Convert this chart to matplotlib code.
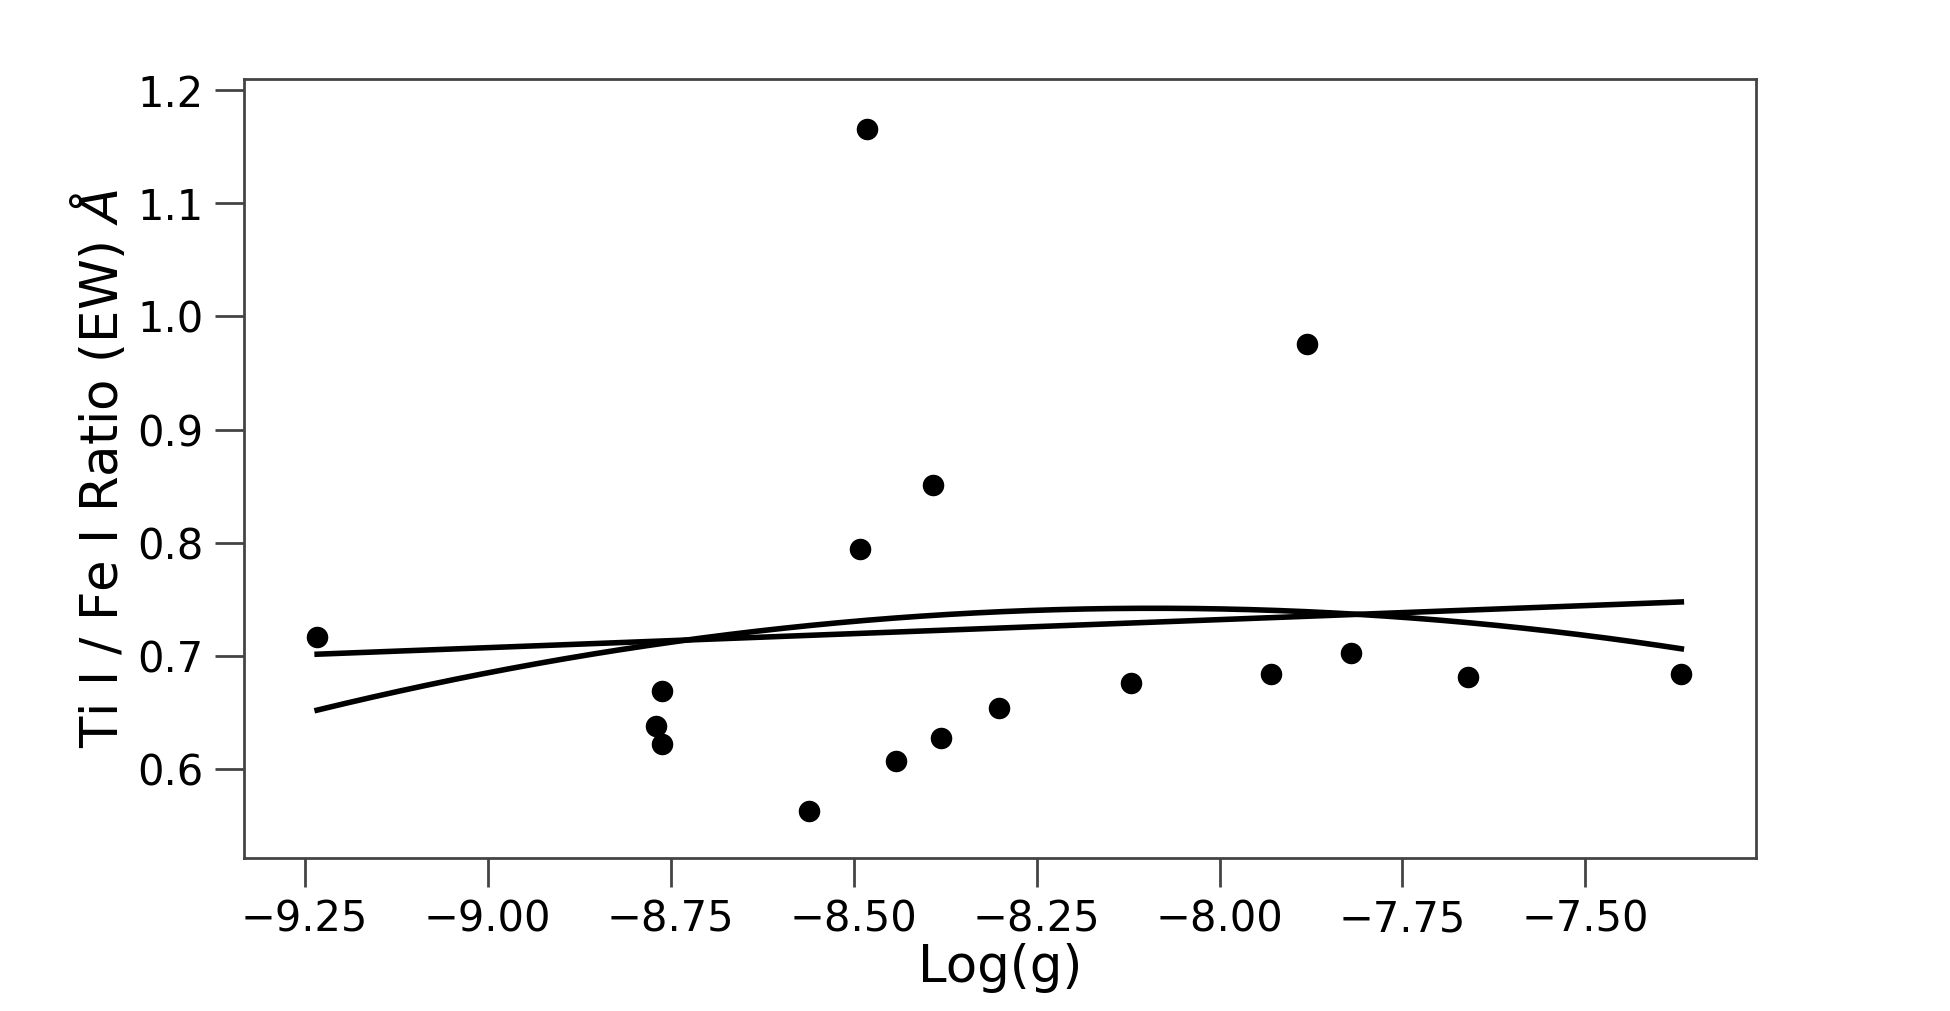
import matplotlib.pyplot as plt
import numpy as np

log_g = [-9.233, -8.762, -8.770, -8.762, -8.561, -8.481, -8.491, -8.391, -8.442,
         -8.381, -8.301, -8.121, -7.930, -7.881, -7.820, -7.660, -7.369]
ratio = [0.7165, 0.669, 0.638, 0.622, 0.5626, 1.166, 0.7945, 0.851, 0.6066,
         0.6275, 0.6537, 0.6758, 0.6835, 0.9758, 0.702, 0.681, 0.6835]

x = np.array(log_g)
y = np.array(ratio)
# linear and quadratic fits over the data range
xs = np.linspace(x.min(), x.max(), 200)
lin = np.polyval(np.polyfit(x, y, 1), xs)
quad = np.polyval(np.polyfit(x, y, 2), xs)

fig = plt.figure(figsize=(19.5, 10.11), dpi=100)
ax = fig.add_axes([0.1251, 0.1513, 0.7754, 0.7705])

ax.scatter(x, y, s=210, color="black", zorder=3)
ax.plot(xs, lin, color="black", linewidth=4)
ax.plot(xs, quad, color="black", linewidth=4)

ax.set_xlim(-9.333, -7.267)
ax.set_ylim(0.521, 1.21)
ax.set_xticks([-9.25, -9.0, -8.75, -8.5, -8.25, -8.0, -7.75, -7.5])
ax.set_yticks([0.6, 0.7, 0.8, 0.9, 1.0, 1.1, 1.2])
ax.set_xticklabels(["\u22129.25", "\u22129.00", "\u22128.75", "\u22128.50", "\u22128.25",
                    "\u22128.00", "\u22127.75", "\u22127.50"])
ax.tick_params(axis="both", direction="out", length=21, width=2, color="#444444",
               labelsize=30, pad=8)
for s in ax.spines.values():
    s.set_color("#444444")
    s.set_linewidth(2)

ax.set_xlabel("Log(g)", fontsize=37, labelpad=2)
ax.set_ylabel("Ti I / Fe I Ratio (EW) $\\AA$", fontsize=37, labelpad=6)

fig.savefig("out.png", dpi=100)
